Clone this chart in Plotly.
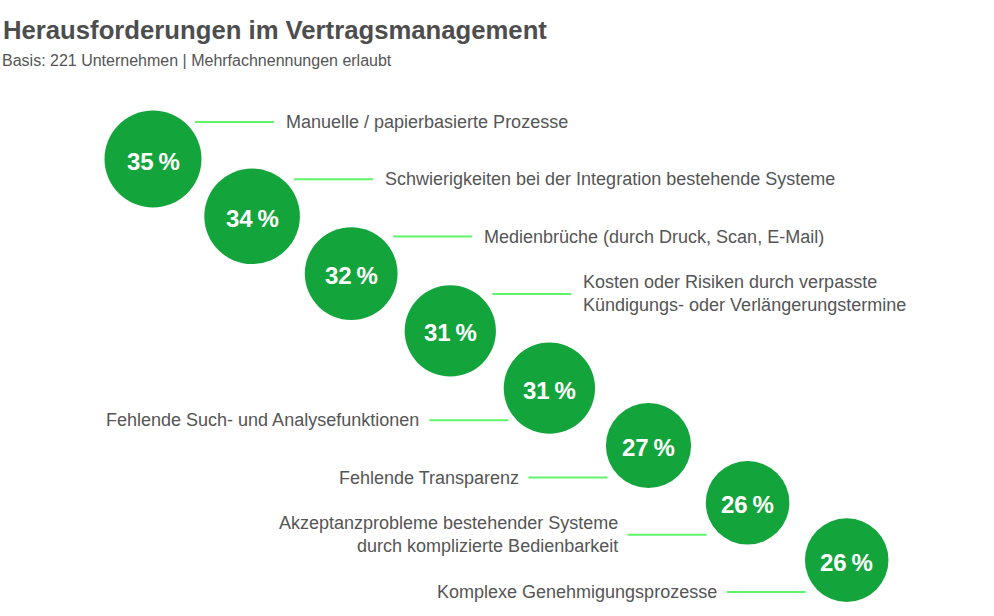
import plotly.graph_objects as go
import math

# ---- data ----
values = [35, 34, 32, 31, 31, 27, 26, 26]
labels = [
    "Manuelle / papierbasierte Prozesse",
    "Schwierigkeiten bei der Integration bestehende Systeme",
    "Medienbrüche (durch Druck, Scan, E-Mail)",
    "Kosten oder Risiken durch verpasste<br>Kündigungs- oder Verlängerungstermine",
    "Fehlende Such- und Analysefunktionen",
    "Fehlende Transparenz",
    "Akzeptanzprobleme bestehender Systeme<br>durch komplizierte Bedienbarkeit",
    "Komplexe Genehmigungsprozesse",
]
title = "Herausforderungen im Vertragsmanagement"
subtitle = "Basis: 221 Unternehmen | Mehrfachnennungen erlaubt"

# ---- layout constants ----
W, H = 994, 616
X0, DX = 153, 99.1
Y0, DY = 159, 57.3
D_MAX = 97
CIRCLE = "#13a53c"
LINE = "#5ef56a"
TEXT = "#555555"
FONT = "Liberation Sans, Arial, sans-serif"

n = len(values)
cx = [X0 + DX * i for i in range(n)]
cy = [Y0 + DY * i for i in range(n)]
sizes = [D_MAX * math.sqrt(v / max(values)) for v in values]

fig = go.Figure()

annotations = []
for i in range(n):
    right = i < 4
    if right:
        x1, x2, ly = cx[i] + 42, cx[i] + 121, cy[i] - 37
        tx, anchor = cx[i] + 131, "left"
    else:
        x1, x2, ly = cx[i] - 120, cx[i] - 41, cy[i] + 32
        tx, anchor = cx[i] - 128, "right"
    fig.add_trace(go.Scatter(x=[x1, x2], y=[ly, ly], mode="lines",
                             line=dict(color=LINE, width=2),
                             hoverinfo="skip", showlegend=False))
    annotations.append(dict(x=tx, y=ly, xref="x", yref="y", text=labels[i],
                            showarrow=False, xanchor=anchor, yanchor="middle",
                            align=anchor,
                            font=dict(family=FONT, size=18, color=TEXT)))

fig.add_trace(go.Scatter(
    x=cx, y=cy, mode="markers",
    marker=dict(size=sizes, color=CIRCLE, opacity=1, line=dict(width=0)),
    hoverinfo="skip", showlegend=False))

for i in range(n):
    annotations.append(dict(x=cx[i], y=cy[i] + 2, xref="x", yref="y",
                            text=f"<b>{values[i]}\u2009%</b>",
                            showarrow=False, xanchor="center", yanchor="middle",
                            font=dict(family=FONT, size=24, color="white")))

annotations.append(dict(x=1, y=30, xref="x", yref="y", text=f"<b>{title}</b>",
                        showarrow=False, xanchor="left", yanchor="middle",
                        font=dict(family=FONT, size=25.7, color="#4d4d4d")))
annotations.append(dict(x=0, y=60, xref="x", yref="y", text=subtitle,
                        showarrow=False, xanchor="left", yanchor="middle",
                        font=dict(family=FONT, size=16, color=TEXT)))

fig.update_layout(
    width=W, height=H,
    margin=dict(l=0, r=0, t=0, b=0),
    paper_bgcolor="white", plot_bgcolor="white",
    xaxis=dict(range=[0, W], visible=False, fixedrange=True),
    yaxis=dict(range=[H, 0], visible=False, fixedrange=True),
    annotations=annotations,
)

fig.write_html("out.html", config={"displayModeBar": False},
               post_script="document.body.style.margin='0';")
